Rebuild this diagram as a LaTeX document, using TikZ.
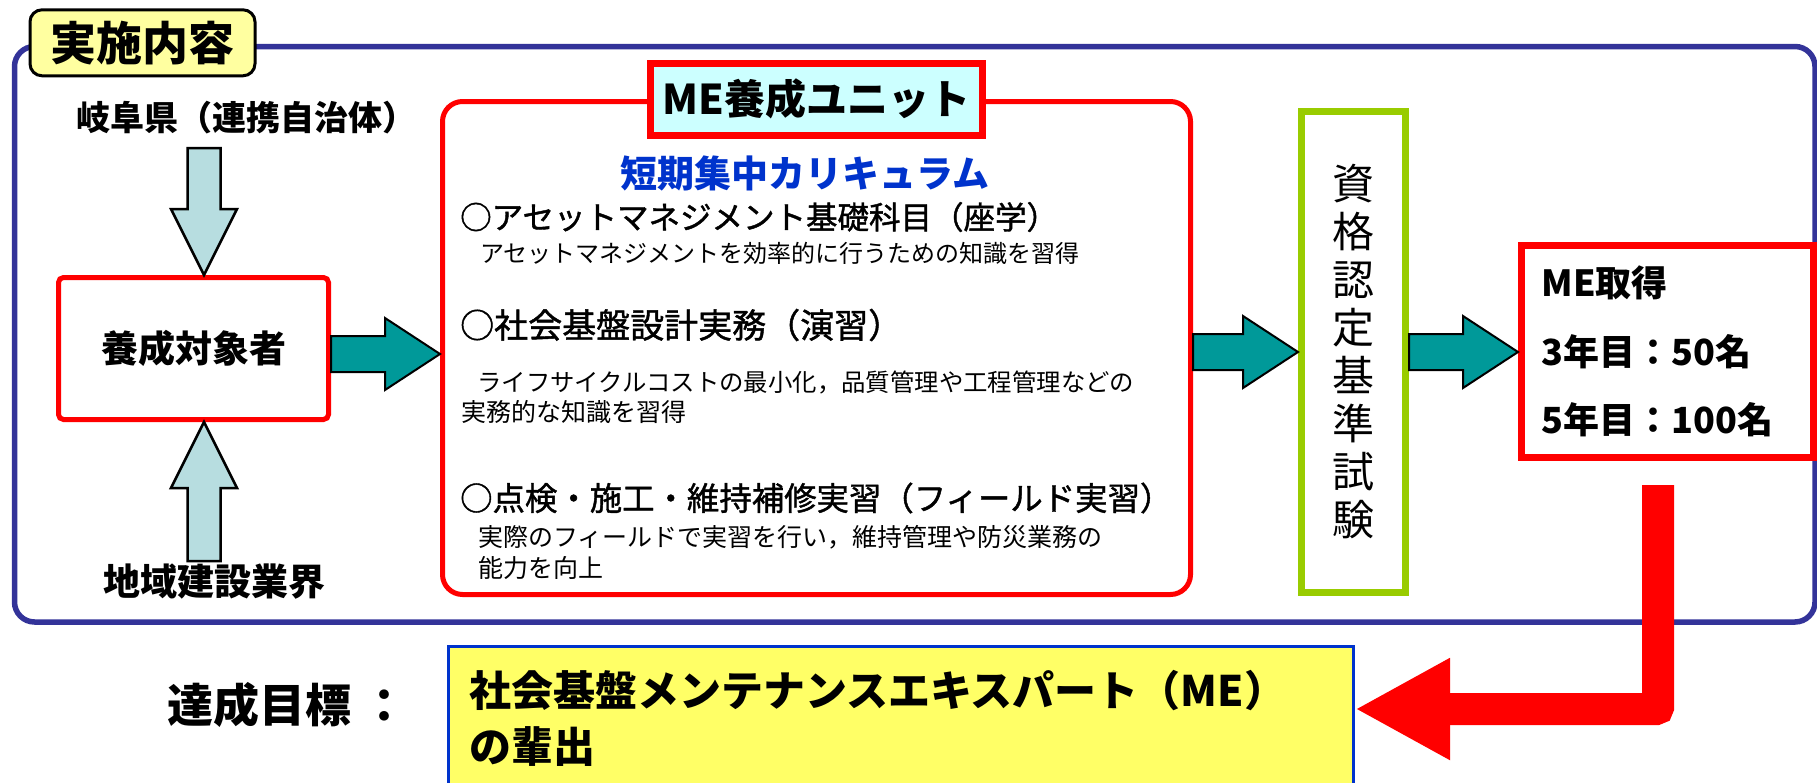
\documentclass[tikz,border=0pt]{standalone}
\usepackage{fontspec}
\setmainfont{Noto Sans CJK JP}
\newfontfamily\jpmed{Noto Sans CJK JP}[FakeBold=1.3]
\usetikzlibrary{calc,arrows.meta}

\definecolor{framebl}{HTML}{333399}
\definecolor{tagyel}{HTML}{FFFFA0}
\definecolor{unitcyan}{HTML}{CCFFFF}
\definecolor{currblue}{HTML}{0033CC}
\definecolor{exmgreen}{HTML}{99CC00}
\definecolor{goalyel}{HTML}{FFFF66}
\definecolor{goalblue}{HTML}{0033CC}
\definecolor{arrowteal}{HTML}{009999}
\definecolor{arrowblue}{HTML}{B7DDE0}
\definecolor{mered}{HTML}{FF0000}

\newcommand{\jpsize}[1]{\fontsize{#1pt}{#1pt}\selectfont}

\tikzset{
  blockarrow/.style n args={3}{to path={
    ($(\tikztotarget)!#3!(\tikztostart)$) coordinate (ba-n)
    ($(\tikztostart)!#1!90:(\tikztotarget)$) -- ($(ba-n)!#1!-90:(\tikztostart)$)
    -- ($(ba-n)!#2!-90:(\tikztostart)$) -- (\tikztotarget)
    -- ($(ba-n)!#2!90:(\tikztostart)$) -- ($(ba-n)!#1!90:(\tikztostart)$)
    -- ($(\tikztostart)!#1!-90:(\tikztotarget)$) -- cycle}},
  tealarrow/.style={blockarrow={18pt}{36pt}{55pt},draw=black,fill=arrowteal,line width=2pt},
  bluearrow/.style={blockarrow={16.5pt}{33pt}{66pt},draw=black,fill=arrowblue,line width=2.5pt},
  goalarrow/.style={draw=mered,line width=32pt,rounded corners=2pt,-{Triangle[length=95pt,width=95pt]}},
  framebox/.style={draw=framebl,line width=5.5pt,rounded corners=20pt},
  redbox/.style={draw=mered,line width=5pt,rounded corners=5pt},
  bullet/.style={anchor=west,font=\jpmed\jpsize{#1}},
  detail/.style={anchor=west,font=\jpsize{#1}},
  lbltext/.style={font=\jpsize{#1}\bfseries}
}

\begin{document}
\begin{tikzpicture}[x=1pt,y=-1pt,every node/.style={inner sep=0pt}]
  \useasboundingbox (0,0) rectangle (1817,782);
  \clip (0,0) rectangle (1817,782);

  % frame and its tag
  \draw[framebox] (14.5,46.5) rectangle (1815,622);
  \node[draw=black,fill=tagyel,line width=3pt,rounded corners=12pt,
        minimum width=225pt,minimum height=66pt,lbltext=46] (tag) at (142.5,42.8) {実施内容};

  \path
  node[lbltext=34] (pref) at (246,118) {岐阜県（連携自治体）}
  node[redbox,minimum width=270pt,minimum height=142pt,lbltext=37] (trainee) at (193.5,348.5) {養成対象者}
  node[lbltext=37] (industry) at (214,582) {地域建設業界}
  node[redbox,rounded corners=20pt,minimum width=748pt,minimum height=493pt] (unit) at (816.5,348) {}
  node[draw=mered,fill=unitcyan,line width=7pt,minimum width=332pt,minimum height=72pt,
       lbltext=41] (unittitle) at (unit.north) {ME養成ユニット}
  node[lbltext=37,text=currblue] (curr) at (805,173) {短期集中カリキュラム}
  node[bullet=31.5] (b1) at (460,217) {○アセットマネジメント基礎科目（座学）}
  node[detail=24] (d1) at (480,253) {アセットマネジメントを効率的に行うための知識を習得}
  node[bullet=34] (b2) at (460,325) {○社会基盤設計実務（演習）}
  node[detail=24.4] (d2a) at (477,382) {ライフサイクルコストの最小化，品質管理や工程管理などの}
  node[detail=25] (d2b) at (461,412) {実務的な知識を習得}
  node[bullet=32.4] (b3) at (460,498) {○点検・施工・維持補修実習（フィールド実習）}
  node[detail=25] (d3a) at (478,537) {実際のフィールドで実習を行い，維持管理や防災業務の}
  node[detail=25] (d3b) at (478,568) {能力を向上}
  node[draw=exmgreen,line width=7pt,minimum width=104pt,minimum height=481pt,align=center,
       font=\fontsize{42pt}{48pt}\selectfont] (exam) at (1353.5,352) {資\\格\\認\\定\\基\\準\\試\\験}
  node[draw=mered,line width=7pt,minimum width=292pt,minimum height=212pt,text width=252pt,
       align=left,font=\fontsize{36pt}{68.5pt}\selectfont\bfseries] (megain) at (1667.5,351.5)
       {ME取得\\3年目：50名\\5年目：100名}
  node[anchor=west,lbltext=46] (goallbl) at (167,705) {達成目標 ：}
  node[draw=goalblue,fill=goalyel,line width=3pt,minimum width=905pt,minimum height=143.5pt,
       text width=864pt,align=left,font=\fontsize{42pt}{56pt}\selectfont\bfseries] (goal) at (901,718)
       {社会基盤メンテナンスエキスパート（ME）\\の輩出}
  ;

  \coordinate (downtail) at (204,148);
  \coordinate (uptail) at (204,561);
  \coordinate (a1) at ([yshift=-5.5pt]trainee.east);
  \coordinate (lstart) at (1658,485);

  \draw[bluearrow] (downtail) to (downtail |- trainee.north);
  \draw[bluearrow] (uptail) to (uptail |- trainee.south);
  \draw[tealarrow] (a1) to (a1 -| unit.west);
  \draw[tealarrow] (exam.west -| unit.east) to (exam.west);
  \draw[tealarrow] (exam.east) to (exam.east -| megain.west);
  \draw[goalarrow] (lstart) |- ([yshift=9pt]goal.east);
\end{tikzpicture}
\end{document}
